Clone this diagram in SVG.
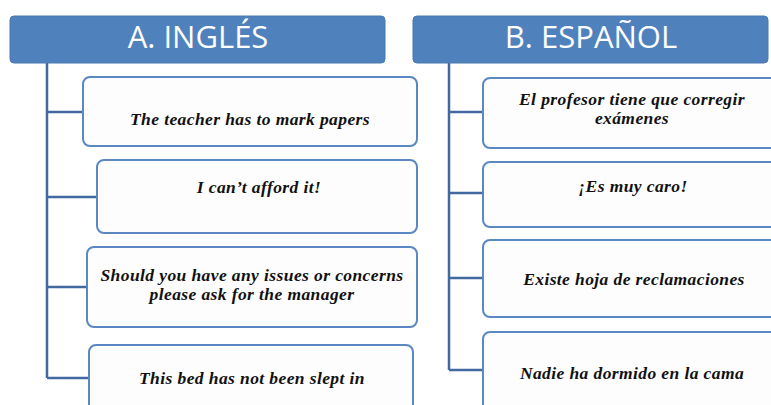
<svg xmlns="http://www.w3.org/2000/svg" width="771" height="405" viewBox="0 0 771 405">
<style>
.hdr{fill:#4f81bd;stroke:#4a78b0;stroke-width:1}
.hdrt{fill:#ffffff;font-family:"Open Sans","Liberation Sans",sans-serif;font-size:31px;text-anchor:middle}
.box{fill:#fdfdfd;stroke:#5b87c2;stroke-width:2}
.bt{fill:#111;font-family:"Liberation Serif",serif;font-style:italic;font-weight:bold;font-size:17.5px;letter-spacing:0.4px;text-anchor:middle}
.con{stroke:#41699f;stroke-width:2.5;fill:none}
</style>
<rect width="771" height="405" fill="#ffffff"/>
<g id="connectors">
<path class="con" d="M47 63V378M47 112H83M47 197H97M47 287H87M47 378H89"/>
<path class="con" d="M449 63V370M449 112H483M449 193H483M449 278H483M449 370H483"/>
</g>
<g id="headerA"><rect class="hdr" x="10" y="16" width="375" height="47" rx="4"/><text class="hdrt" x="198" y="48">A. INGLÉS</text></g>
<g id="headerB"><rect class="hdr" x="413" y="16" width="355" height="47" rx="4"/><text class="hdrt" x="591" y="48">B. ESPAÑOL</text></g>
<g id="a1"><rect class="box" x="83" y="77" width="334" height="69" rx="7"/><text class="bt" x="250" y="125">The teacher has to mark papers</text></g>
<g id="a2"><rect class="box" x="97" y="160" width="320" height="73" rx="7"/><text class="bt" x="259" y="193">I can’t afford it!</text></g>
<g id="a3"><rect class="box" x="87" y="247" width="330" height="80" rx="7"/><text class="bt" x="252" y="281">Should you have any issues or concerns</text><text class="bt" x="252" y="300">please ask for the manager</text></g>
<g id="a4"><rect class="box" x="89" y="345" width="324" height="80" rx="7"/><text class="bt" x="252" y="384">This bed has not been slept in</text></g>
<g id="b1"><rect class="box" x="483" y="78" width="300" height="70" rx="7"/><text class="bt" x="632" y="105">El profesor tiene que corregir</text><text class="bt" x="632" y="124">exámenes</text></g>
<g id="b2"><rect class="box" x="483" y="162" width="300" height="65" rx="7"/><text class="bt" x="633" y="192">¡Es muy caro!</text></g>
<g id="b3"><rect class="box" x="483" y="240" width="300" height="77" rx="7"/><text class="bt" x="634" y="285">Existe hoja de reclamaciones</text></g>
<g id="b4"><rect class="box" x="483" y="332" width="300" height="90" rx="7"/><text class="bt" x="632" y="379">Nadie ha dormido en la cama</text></g>
</svg>
